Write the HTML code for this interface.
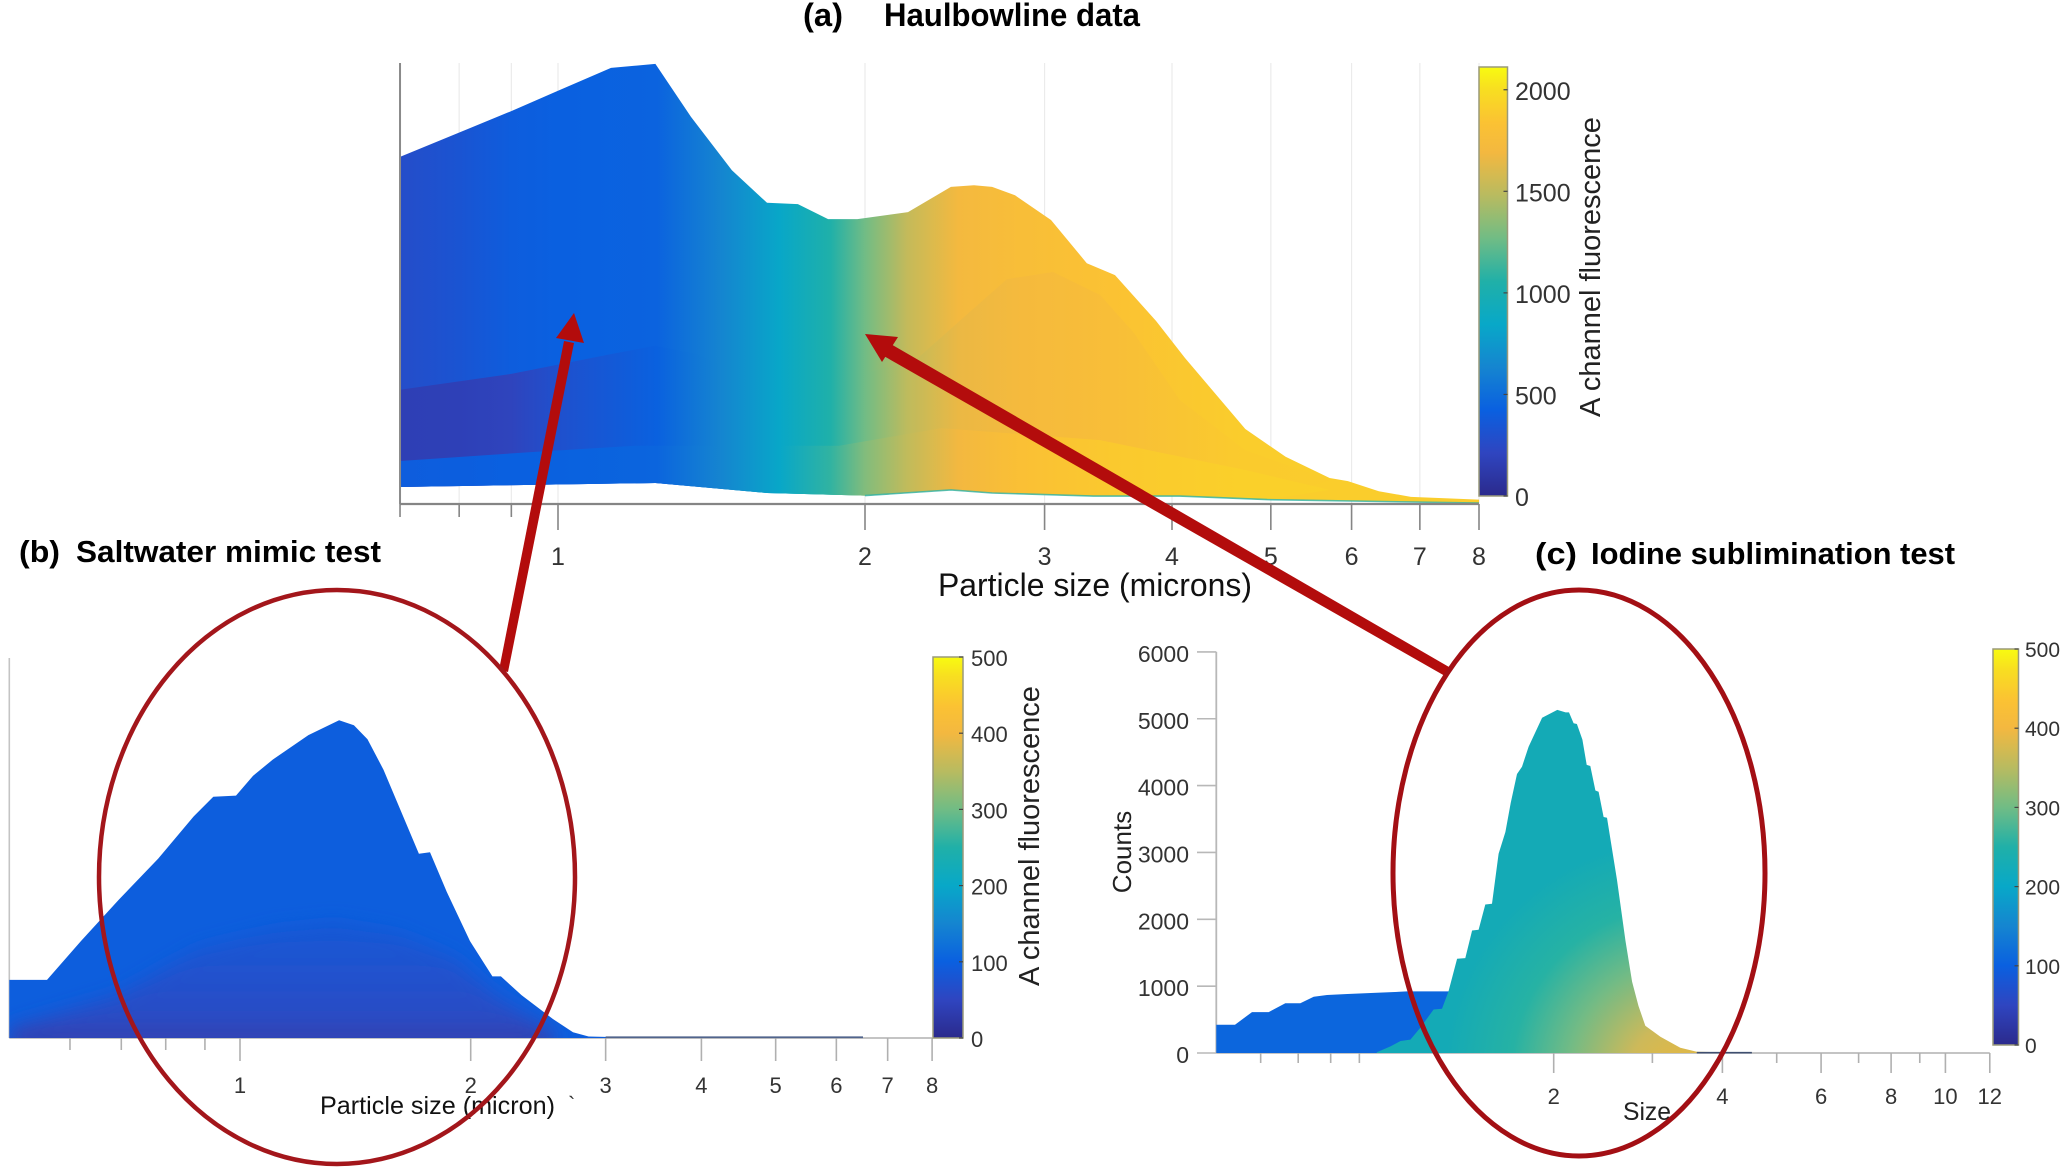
<!DOCTYPE html>
<html>
<head>
<meta charset="utf-8">
<title>Particle size and fluorescence comparison</title>
<style>
html,body{margin:0;padding:0;background:#fff;}
svg{display:block;}
text{font-family:"Liberation Sans",sans-serif;}
</style>
</head>
<body>
<svg id="fig" xmlns="http://www.w3.org/2000/svg" width="2067" height="1168" viewBox="0 0 2067 1168">
<rect x="0" y="0" width="2067" height="1168" fill="#ffffff"/>
<defs id="defs"></defs>
<g id="panel-a"></g>
<g id="panel-b"></g>
<g id="panel-c"></g>

<text x="803" y="26" font-size="32" font-weight="bold" textLength="40" lengthAdjust="spacingAndGlyphs" fill="#000">(a)</text>
<text x="884" y="26" font-size="32" font-weight="bold" textLength="256" lengthAdjust="spacingAndGlyphs" fill="#000">Haulbowline data</text>
<text x="938" y="596" font-size="32" textLength="314" lengthAdjust="spacingAndGlyphs" fill="#111">Particle size (microns)</text>
<text transform="translate(1600 267) rotate(-90)" text-anchor="middle" font-size="29" fill="#222">A channel fluorescence</text>

<text x="19" y="562" font-size="31" font-weight="bold" textLength="41" lengthAdjust="spacingAndGlyphs" fill="#000">(b)</text>
<text x="76" y="562" font-size="31" font-weight="bold" textLength="305" lengthAdjust="spacingAndGlyphs" fill="#000">Saltwater mimic test</text>
<text x="320" y="1114" font-size="25" textLength="235" lengthAdjust="spacingAndGlyphs" fill="#111">Particle size (micron)</text>
<text x="568" y="1112" font-size="22" fill="#333">`</text>
<text transform="translate(1039 836) rotate(-90)" text-anchor="middle" font-size="29" fill="#222">A channel fluorescence</text>

<text x="1535" y="564" font-size="31" font-weight="bold" textLength="42" lengthAdjust="spacingAndGlyphs" fill="#000">(c)</text>
<text x="1591" y="564" font-size="31" font-weight="bold" textLength="364" lengthAdjust="spacingAndGlyphs" fill="#000">Iodine sublimination test</text>
<text x="1623" y="1120" font-size="25" textLength="48" lengthAdjust="spacingAndGlyphs" fill="#222">Size</text>
<text transform="translate(1131 852) rotate(-90)" text-anchor="middle" font-size="26" fill="#222">Counts</text>

<polygon points="499,670 508,672 574,343 564,341" fill="#b30c0c"/>
<polygon points="574,313 556,338 584,343" fill="#b30c0c"/>
<polygon points="1445,676 1449,667 889,343 882,355" fill="#b30c0c"/>
<polygon points="865,334 898,337 882,362" fill="#b30c0c"/>
<ellipse cx="337" cy="877" rx="238" ry="287" fill="none" stroke="#a3161b" stroke-width="4.5"/>
<ellipse cx="1579" cy="873" rx="186" ry="283" fill="none" stroke="#a30f14" stroke-width="5"/>
</svg>
<script>
// Shared parula-like colormap (position 0..1, colour)
const cmapPos = [0, 0.1, 0.2, 0.3, 0.4, 0.5, 0.6, 0.7, 0.8, 0.87, 0.95, 1];
const cmapCol = ['#2b2a8c', '#2f45c0', '#0a60e0', '#1585d0', '#08a8c8', '#20b0a8', '#70bc85', '#b8bb60', '#f3b840', '#fbc233', '#f8df20', '#f8fb10'];

// Panel (a) – x in microns, y in relative height (0..100 of axis)
const aTopSizes = [0.7, 0.9, 1, 1.127, 1.246, 1.35, 1.481, 1.603, 1.719, 1.84, 1.966, 2.204, 2.428, 2.558, 2.665, 2.806, 3.044, 3.3, 3.517, 3.859, 4.119, 4.72, 5.17, 5.71, 5.95, 6.38, 6.86, 8];
const aTopVals = [78.7, 89.1, 93.7, 98.9, 99.8, 87.8, 75.7, 68.3, 68, 64.6, 64.6, 66.2, 71.9, 72.3, 71.9, 70, 64.4, 54.6, 51.9, 41.5, 33.1, 17, 10.7, 5.9, 5.2, 2.9, 1.6, 1];
const aMidSizes = [0.7, 0.9, 1.127, 1.246, 1.366, 1.481, 1.607, 1.738, 2, 2.244, 2.518, 2.756, 3.057, 3.4, 3.67, 4.07, 4.72, 5.71];
const aMidVals = [25.9, 29.5, 34, 35.9, 34, 30.6, 27.7, 27.4, 29.7, 32.7, 43, 51, 52.6, 47.4, 38.8, 23.6, 12.2, 5.4];
const aLowSizes = [0.7, 0.945, 1.19, 1.498, 1.886, 2.116, 2.375, 3.4, 4.72, 5.71];
const aLowVals = [9.75, 11.8, 13.2, 13.2, 13.2, 15.2, 17.2, 14.5, 7.7, 3.2];
const aBaseSizes = [0.7, 1.246, 1.603, 2, 2.428, 2.665, 3.35, 4.07, 4.96, 8];
const aBaseVals = [3.85, 4.76, 2.5, 1.9, 3.2, 2.5, 1.8, 1.8, 1, 0.2];
const aFluorSizes = [0.7, 0.8, 0.9, 1, 1.25, 1.44, 1.65, 1.85, 2, 2.2, 2.47, 2.85, 3.5, 4.7, 8];
const aTopFluor = [270, 330, 400, 420, 440, 630, 840, 1050, 1270, 1520, 1700, 1780, 1840, 1900, 1900];
const aMidFluor = [165, 175, 200, 300, 430, 630, 840, 1050, 1270, 1500, 1660, 1720, 1780, 1890, 1900];
const aLowFluor = [400, 410, 420, 430, 450, 630, 840, 1100, 1320, 1510, 1690, 1810, 1880, 1920, 1930];
const aTickVals = [0.7, 0.8, 0.9, 1, 2, 3, 4, 5, 6, 7, 8];
const aTickLabels = ['', '', '', '1', '2', '3', '4', '5', '6', '7', '8'];
const aBarTicks = [0, 500, 1000, 1500, 2000];
const aBarMax = 2112;

// Panel (b)
const bTopSizes = [0.5, 0.56, 0.62, 0.694, 0.782, 0.87, 0.923, 0.988, 1.04, 1.104, 1.228, 1.347, 1.408, 1.467, 1.539, 1.712, 1.77, 1.861, 1.996, 2.135, 2.19, 2.33, 2.56, 2.72, 2.85, 3.13, 6.5];
const bTopVals = [15.3, 15.3, 25.5, 36.3, 47.2, 58.3, 63.5, 63.8, 69, 73.3, 79.7, 83.6, 82.3, 78.6, 70.6, 48.5, 48.9, 38.5, 25.5, 16.2, 16.2, 11.3, 5, 1.5, 0.4, 0.2, 0.2];
const bInnerSizes = [0.5, 0.694, 0.88, 1.117, 1.334, 1.595, 1.9, 2.145, 2.56];
const bInnerVals = [2.6, 11.3, 23.3, 28.7, 30.4, 27.6, 21.1, 11.3, 1.5];
const bFluor = 96;
const bTickVals = [0.6, 0.7, 0.8, 0.9, 1, 2, 3, 4, 5, 6, 7, 8];
const bTickLabels = ['', '', '', '', '1', '2', '3', '4', '5', '6', '7', '8'];
const bBarTicks = [0, 100, 200, 300, 400, 500];
const bBarMax = 500;

// Panel (c)
const cBlueSizes = [0.5, 0.54, 0.579, 0.62, 0.664, 0.706, 0.746, 0.788, 0.857, 0.967, 1.094, 1.298, 1.4];
const cBlueCounts = [423, 423, 612, 612, 743, 743, 840, 867, 883, 900, 921, 921, 921];
const cMainSizes = [0.967, 1.023, 1.066, 1.11, 1.156, 1.221, 1.264, 1.298, 1.345, 1.391, 1.43, 1.469, 1.51, 1.552, 1.595, 1.64, 1.676, 1.72, 1.756, 1.804, 1.907, 2.03, 2.1, 2.13, 2.17, 2.2, 2.25, 2.29, 2.325, 2.374, 2.405, 2.455, 2.49, 2.594, 2.686, 2.76, 2.834, 2.914, 3.1, 3.364, 3.6, 4.515];
const cMainCounts = [11, 98, 179, 200, 379, 650, 661, 921, 1409, 1420, 1832, 1843, 2222, 2233, 2981, 3306, 3740, 4173, 4282, 4580, 5014, 5133, 5095, 5095, 4932, 4921, 4688, 4309, 4293, 3927, 3909, 3530, 3520, 2588, 1675, 1065, 703, 408, 244, 79, 18, 5];
const cBlueFluor = 108;
const cYTicks = [0, 1000, 2000, 3000, 4000, 5000, 6000];
const cTickVals = [0.6, 0.7, 0.8, 0.9, 2, 3, 4, 5, 6, 7, 8, 9, 10, 12];
const cTickLabels = ['', '', '', '', '2', '', '4', '', '6', '', '8', '', '10', '12'];
const cBarTicks = [0, 100, 200, 300, 400, 500];
const cBarMax = 500;

// Axis functions
function xA(s) { return 558 + 307 * Math.log2(s); }
function yA(v) { return 504 - 4.41 * v; }
function xB(s) { return 240 + 230.7 * Math.log2(s); }
function yB(v) { return 1038 - 3.8 * v; }
function xC(s) { return 1385 + 168.7 * Math.log2(s); }
function yC(c) { return 1053 - 0.06685 * c; }

const NS = 'http://www.w3.org/2000/svg';
const defs = document.getElementById('defs');
const gA = document.getElementById('panel-a');
const gB = document.getElementById('panel-b');
const gC = document.getElementById('panel-c');

function make(tag, geometry, parent) {
  const el = document.createElementNS(NS, tag);
  for (const k in geometry) el.setAttribute(k, geometry[k]);
  parent.appendChild(el);
  return el;
}
function cmap(t) {
  t = Math.max(0, Math.min(1, t));
  let i = 0;
  while (i < cmapPos.length - 2 && t > cmapPos[i + 1]) i++;
  const f = (t - cmapPos[i]) / (cmapPos[i + 1] - cmapPos[i]);
  const a = cmapCol[i], b = cmapCol[i + 1];
  const out = [1, 3, 5].map(function (p) {
    const u = parseInt(a.substr(p, 2), 16), w = parseInt(b.substr(p, 2), 16);
    return Math.round(u + (w - u) * f);
  });
  return 'rgb(' + out.join(',') + ')';
}
function hGradient(id, sizes, fluor, max, xf) {
  const x0 = xf(sizes[0]), x1 = xf(sizes[sizes.length - 1]);
  const g = make('linearGradient', { id: id, gradientUnits: 'userSpaceOnUse', x1: x0, x2: x1, y1: 0, y2: 0 }, defs);
  sizes.forEach(function (s, i) {
    make('stop', { offset: (xf(s) - x0) / (x1 - x0), 'stop-color': cmap(fluor[i] / max) }, g);
  });
}
function bandPoints(sizes, vals, lowSizes, lowVals, xf, yf) {
  const p = sizes.map(function (s, i) { return xf(s).toFixed(1) + ',' + yf(vals[i]).toFixed(1); });
  for (let i = lowSizes.length - 1; i >= 0; i--) {
    p.push(xf(lowSizes[i]).toFixed(1) + ',' + yf(lowVals[i]).toFixed(1));
  }
  return p.join(' ');
}
function label(parent, x, y, txt, size, anchor) {
  const t = make('text', { x: x, y: y, 'font-size': size, 'text-anchor': anchor, fill: '#333' }, parent);
  t.textContent = txt;
  return t;
}
function colorbar(parent, prefix, x0, x1, yTop, yBot, ticks, max, labelYOffset, fontSize, labelX) {
  const id = prefix + '-bar-gradient';
  const g = make('linearGradient', { id: id, x1: 0, x2: 0, y1: 1, y2: 0 }, defs);
  cmapPos.forEach(function (p, i) {
    make('stop', { offset: p, 'stop-color': cmapCol[i] }, g);
  });
  const bar = make('rect', { x: x0, y: yTop, width: x1 - x0, height: yBot - yTop, fill: 'url(#' + id + ')', stroke: '#9a9a7a', 'stroke-width': 1.5 }, parent);
  
  
  ticks.forEach(function (v) {
    const y = yBot - (yBot - yTop) * v / max;
    const tk = make('line', { x1: x1 - 4, x2: x1, y1: y, y2: y, stroke: '#444', 'stroke-width': 1.2 }, parent);
    
    
    const t = label(parent, labelX, y + labelYOffset, String(v), fontSize, 'start');
    
    
  });
}

/* ---------- Panel A ---------- */
aTickVals.forEach(function (v) {
  if (v === 0.7) return;
  const gl = make('line', { x1: xA(v), x2: xA(v), y1: 63, y2: 504, stroke: '#ebebeb', 'stroke-width': 1.2 }, gA);
  
  
});
hGradient('a-top-grad', aFluorSizes, aTopFluor, aBarMax, xA);
hGradient('a-mid-grad', aFluorSizes, aMidFluor, aBarMax, xA);
hGradient('a-low-grad', aFluorSizes, aLowFluor, aBarMax, xA);
const aTop = make('polygon', { points: bandPoints(aTopSizes, aTopVals, aBaseSizes, aBaseVals, xA, yA), fill: 'url(#a-top-grad)' }, gA);


const aMid = make('polygon', { points: bandPoints(aMidSizes, aMidVals, aBaseSizes.slice(0, 9), aBaseVals.slice(0, 9), xA, yA), fill: 'url(#a-mid-grad)' }, gA);


const aLow = make('polygon', { points: bandPoints(aLowSizes, aLowVals, aBaseSizes.slice(0, 9), aBaseVals.slice(0, 9), xA, yA), fill: 'url(#a-low-grad)' }, gA);


const aEdge = make('polyline', { points: aBaseSizes.slice(3).map(function (s, i) { return xA(s).toFixed(1) + ',' + yA(aBaseVals[i + 3]).toFixed(1); }).join(' '), fill: 'none', stroke: '#2fb3a6', 'stroke-width': 1.6, opacity: 0.8 }, gA);


const aYAxis = make('line', { x1: xA(0.7), x2: xA(0.7), y1: 63, y2: 504, stroke: '#8a8a8a', 'stroke-width': 2 }, gA);


const aXAxis = make('line', { x1: xA(0.7), x2: xA(8), y1: 504, y2: 504, stroke: '#858585', 'stroke-width': 2.2 }, gA);


aTickVals.forEach(function (v, i) {
  const major = aTickLabels[i] !== '';
  const tk = make('line', { x1: xA(v), x2: xA(v), y1: 504, y2: major ? 530 : 517, stroke: '#858585', 'stroke-width': 1.6 }, gA);
  
  
  if (major) {
    const t = label(gA, xA(v), 565, aTickLabels[i], 25, 'middle');
    
    
  }
});
colorbar(gA, 'panel-a', 1479, 1507.5, 67, 496, aBarTicks, aBarMax, 10, 25, 1515);

/* ---------- Panel B ---------- */
const bClip = make('clipPath', { id: 'b-clip' }, defs);
make('polygon', { points: bandPoints(bTopSizes, bTopVals, [0.5, 6.5], [0, 0], xB, yB) }, bClip);
const bGrad = make('linearGradient', { id: 'b-inner-grad', gradientUnits: 'userSpaceOnUse', x1: 0, x2: 0, y1: yB(32), y2: yB(0) }, defs);
make('stop', { offset: 0, 'stop-color': '#1459d6' }, bGrad);
make('stop', { offset: 0.45, 'stop-color': '#2152ce' }, bGrad);
make('stop', { offset: 0.85, 'stop-color': '#2a4cc4' }, bGrad);
make('stop', { offset: 1, 'stop-color': '#3440b0' }, bGrad);
const bBlur = make('filter', { id: 'b-blur', x: '-10%', y: '-20%', width: '120%', height: '140%' }, defs);
make('feGaussianBlur', { stdDeviation: 9 }, bBlur);

const bYAxis = make('line', { x1: xB(0.5), x2: xB(0.5), y1: 658, y2: 1038, stroke: '#c4c4c4', 'stroke-width': 1.6 }, gB);


const bXAxis = make('line', { x1: xB(0.5), x2: xB(8), y1: 1038, y2: 1038, stroke: '#b0b0b0', 'stroke-width': 1.6 }, gB);


bTickVals.forEach(function (v, i) {
  const major = bTickLabels[i] !== '';
  const tk = make('line', { x1: xB(v), x2: xB(v), y1: 1038, y2: major ? 1061 : 1050, stroke: '#b0b0b0', 'stroke-width': 1.6 }, gB);
  
  
  if (major) {
    const t = label(gB, xB(v), 1093, bTickLabels[i], 22, 'middle');
    
    
  }
});
const bArea = make('polygon', { points: bandPoints(bTopSizes, bTopVals, [0.5, 6.5], [0, 0], xB, yB), fill: cmap(bFluor / bBarMax) }, gB);


const bTail = make('line', { x1: xB(3), x2: xB(6.5), y1: yB(0.2), y2: yB(0.2), stroke: '#50648c', 'stroke-width': 1.8 }, gB);


const bClipGroup = make('g', { 'clip-path': 'url(#b-clip)' }, gB);


const bInner = make('polygon', { points: bandPoints(bInnerSizes, bInnerVals, [0.5, 2.56], [-3, -3], xB, yB), fill: 'url(#b-inner-grad)', filter: 'url(#b-blur)' }, bClipGroup);


colorbar(gB, 'panel-b', 933, 963, 657, 1038, bBarTicks, bBarMax, 9, 22, 971);

/* ---------- Panel C ---------- */
const cYAxis = make('line', { x1: xC(0.5), x2: xC(0.5), y1: yC(6000), y2: yC(0), stroke: '#b8b8b8', 'stroke-width': 1.8 }, gC);


cYTicks.forEach(function (v) {
  const tk = make('line', { x1: 1197, x2: xC(0.5), y1: yC(v), y2: yC(v), stroke: '#b8b8b8', 'stroke-width': 1.6 }, gC);
  
  
  const t = label(gC, 1189, yC(v) + 10, String(v), 23, 'end');
  
  
});
const cXAxis = make('line', { x1: xC(0.5), x2: xC(12), y1: yC(0), y2: yC(0), stroke: '#b0b0b0', 'stroke-width': 1.6 }, gC);


cTickVals.forEach(function (v, i) {
  const major = cTickLabels[i] !== '';
  const tk = make('line', { x1: xC(v), x2: xC(v), y1: 1053, y2: major ? 1073 : 1063, stroke: '#b0b0b0', 'stroke-width': 1.6 }, gC);
  
  
  if (major) {
    const t = label(gC, xC(v), 1104, cTickLabels[i], 22, 'middle');
    
    
  }
});
const cBlue = make('polygon', { points: bandPoints(cBlueSizes, cBlueCounts, [0.5, 1.4], [0, 0], xC, yC), fill: cmap(cBlueFluor / cBarMax) }, gC);


const cGrad = make('radialGradient', { id: 'c-main-grad', gradientUnits: 'userSpaceOnUse', cx: 1680, cy: 1075, r: 235 }, defs);
make('stop', { offset: 0, 'stop-color': '#e8b83e' }, cGrad);
make('stop', { offset: 0.22, 'stop-color': '#cdb95a' }, cGrad);
make('stop', { offset: 0.48, 'stop-color': '#72bb85' }, cGrad);
make('stop', { offset: 0.72, 'stop-color': '#26b2a4' }, cGrad);
make('stop', { offset: 1, 'stop-color': '#14aab6' }, cGrad);
const cMain = make('polygon', { points: bandPoints(cMainSizes, cMainCounts, [0.967, 4.515], [0, 0], xC, yC), fill: 'url(#c-main-grad)' }, gC);


const cTail = make('line', { x1: xC(3.6), x2: xC(4.515), y1: yC(5), y2: yC(5), stroke: '#3f4f70', 'stroke-width': 1.6 }, gC);


colorbar(gC, 'panel-c', 1993, 2018.5, 649, 1045, cBarTicks, cBarMax, 8, 21, 2025);
</script>
</body>
</html>
